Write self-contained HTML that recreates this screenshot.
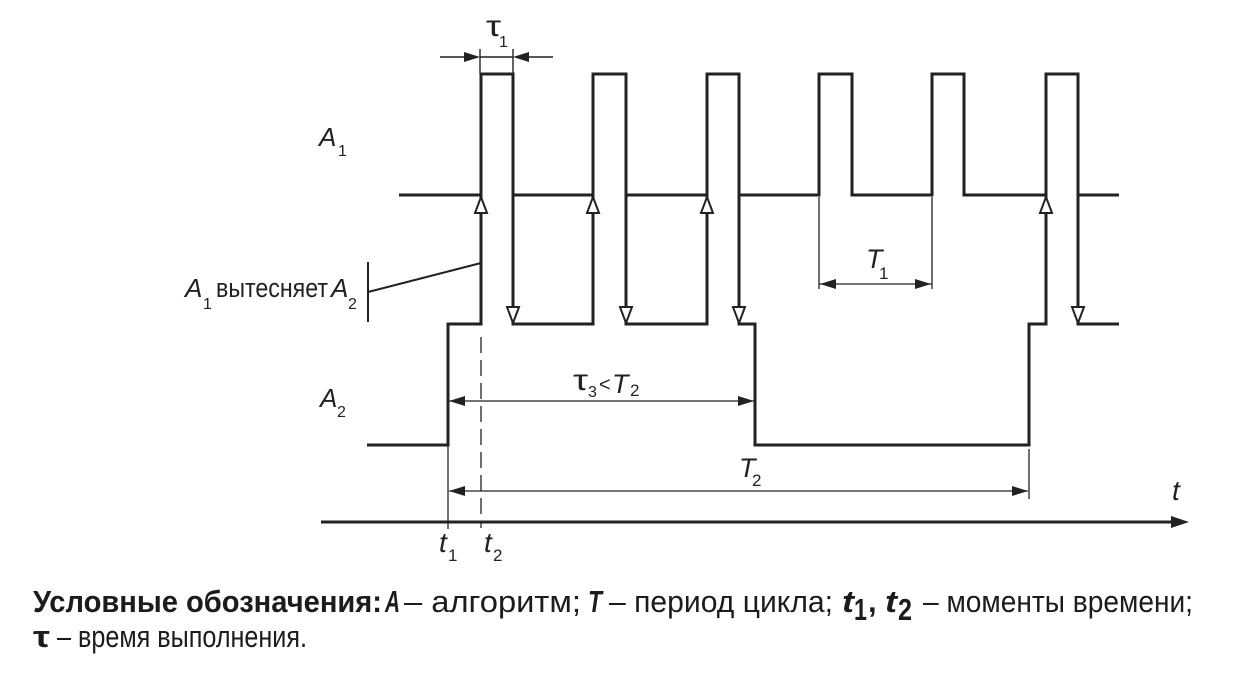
<!DOCTYPE html>
<html>
<head>
<meta charset="utf-8">
<style>
  html,body{margin:0;padding:0;background:#fff;}
  svg{display:block;}
  .lbl{font-family:"Liberation Sans",sans-serif;fill:#222;}
  .cap{font-family:"Liberation Sans",sans-serif;fill:#1c1c1c;font-size:31px;}
</style>
</head>
<body>
<svg width="1238" height="674" viewBox="0 0 1238 674" xmlns="http://www.w3.org/2000/svg">
  <!-- A1 trace -->
  <path d="M399,195 H481 V74 H513 V195 H593 V74 H626 V195 H707 V74 H739 V195 H819 V74 H852 V195 H932 V74 H964 V195 H1046 V74 H1078 V195 H1119"
        fill="none" stroke="#222" stroke-width="3" stroke-linejoin="miter"/>
  <!-- A2 trace -->
  <path d="M367,445 H448 V324 H481 V195 M513,195 V324 H593 V195 M626,195 V324 H707 V195 M739,195 V324 H755 V445 H1029 V324 H1046 V195 M1078,195 V324 H1119"
        fill="none" stroke="#222" stroke-width="3" stroke-linejoin="miter"/>

  <!-- hollow up arrows -->
  <g fill="#fff" stroke="#222" stroke-width="2" stroke-linejoin="miter">
    <polygon points="481,197 475,213 487,213"/>
    <polygon points="593,197 587,213 599,213"/>
    <polygon points="707,197 701,213 713,213"/>
    <polygon points="1046,197 1040,213 1052,213"/>
    <!-- hollow down arrows -->
    <polygon points="513,323 507,307 519,307"/>
    <polygon points="626,323 620,307 632,307"/>
    <polygon points="739,323 733,307 745,307"/>
    <polygon points="1078,323 1072,307 1084,307"/>
  </g>

  <!-- tau1 dimension -->
  <g stroke="#222" stroke-width="1.4" fill="none">
    <line x1="480" y1="49" x2="480" y2="74"/>
    <line x1="513" y1="49" x2="513" y2="74"/>
    <line x1="440" y1="57" x2="470" y2="57"/>
    <line x1="480" y1="57" x2="513" y2="57"/>
    <line x1="523" y1="57" x2="553" y2="57"/>
  </g>
  <polygon points="480,57 464,52 464,62" fill="#222"/>
  <polygon points="513,57 529,52 529,62" fill="#222"/>

  <!-- T1 dimension -->
  <g stroke="#222" stroke-width="1.3" fill="none">
    <line x1="819" y1="197" x2="819" y2="289"/>
    <line x1="932" y1="197" x2="932" y2="289"/>
    <line x1="819" y1="284" x2="932" y2="284"/>
  </g>
  <polygon points="820,284 836,279 836,289" fill="#222"/>
  <polygon points="931,284 915,279 915,289" fill="#222"/>

  <!-- leader for label -->
  <line x1="481" y1="263" x2="368" y2="292" stroke="#222" stroke-width="2"/>
  <line x1="368" y1="262" x2="368" y2="322" stroke="#222" stroke-width="2"/>

  <!-- tau3 dimension -->
  <line x1="449" y1="401" x2="754" y2="401" stroke="#222" stroke-width="1.3"/>
  <polygon points="449,401 465,396 465,406" fill="#222"/>
  <polygon points="754,401 738,396 738,406" fill="#222"/>

  <!-- T2 dimension -->
  <line x1="448" y1="445" x2="448" y2="529" stroke="#222" stroke-width="1.3"/>
  <line x1="1029" y1="449" x2="1029" y2="499" stroke="#222" stroke-width="1.3"/>
  <line x1="449" y1="491" x2="1028" y2="491" stroke="#222" stroke-width="1.3"/>
  <polygon points="449,491 465,486 465,496" fill="#222"/>
  <polygon points="1028,491 1012,486 1012,496" fill="#222"/>

  <!-- t2 dashed -->
  <line x1="481" y1="337" x2="481" y2="528" stroke="#222" stroke-width="1.3" stroke-dasharray="16 7"/>

  <!-- time axis -->
  <line x1="321" y1="522" x2="1174" y2="522" stroke="#222" stroke-width="3"/>
  <polygon points="1171,516 1189,522 1171,528" fill="#222"/>

  <!-- labels -->
  <text class="lbl" x="486" y="36" font-size="30" textLength="15" lengthAdjust="spacingAndGlyphs">τ</text>
  <text class="lbl" x="499" y="47" font-size="16">1</text>

  <text class="lbl" x="319" y="146" font-size="26" font-style="italic">A</text>
  <text class="lbl" x="338" y="156" font-size="16">1</text>

  <text class="lbl" x="320" y="407" font-size="26" font-style="italic">A</text>
  <text class="lbl" x="337" y="417" font-size="16">2</text>

  <text class="lbl" x="185" y="297" font-size="26" font-style="italic">A</text>
  <text class="lbl" x="203" y="309" font-size="16">1</text>
  <text class="lbl" x="216" y="297" font-size="27" textLength="112" lengthAdjust="spacingAndGlyphs">вытесняет</text>
  <text class="lbl" x="331" y="297" font-size="26" font-style="italic">A</text>
  <text class="lbl" x="348" y="309" font-size="16">2</text>

  <text class="lbl" x="573" y="390" font-size="30" textLength="15" lengthAdjust="spacingAndGlyphs">τ</text>
  <text class="lbl" x="588" y="397" font-size="16">3</text>
  <text class="lbl" x="599" y="391" font-size="20">&lt;</text>
  <text class="lbl" x="612" y="393" font-size="27" font-style="italic">T</text>
  <text class="lbl" x="630" y="396" font-size="17">2</text>

  <text class="lbl" x="739" y="477" font-size="27" font-style="italic">T</text>
  <text class="lbl" x="752" y="486" font-size="17">2</text>

  <text class="lbl" x="866" y="268" font-size="27" font-style="italic">T</text>
  <text class="lbl" x="879" y="279" font-size="17">1</text>

  <text class="lbl" x="1172" y="500" font-size="28" font-style="italic">t</text>

  <text class="lbl" x="439" y="552" font-size="28" font-style="italic">t</text>
  <text class="lbl" x="448" y="561" font-size="17">1</text>
  <text class="lbl" x="484" y="552" font-size="28" font-style="italic">t</text>
  <text class="lbl" x="493" y="561" font-size="17">2</text>

  <!-- caption line 1 -->
  <text class="cap" x="33" y="612" font-weight="bold" textLength="349" lengthAdjust="spacingAndGlyphs">Условные обозначения:</text>
  <text class="cap" x="385" y="612" font-weight="bold" font-style="italic" textLength="15" lengthAdjust="spacingAndGlyphs">A</text>
  <text class="cap" x="404" y="612" textLength="177" lengthAdjust="spacingAndGlyphs">– алгоритм;</text>
  <text class="cap" x="588" y="612" font-weight="bold" font-style="italic" textLength="14" lengthAdjust="spacingAndGlyphs">T</text>
  <text class="cap" x="609" y="612" textLength="224" lengthAdjust="spacingAndGlyphs">– период цикла;</text>
  <text class="cap" x="842" y="612" font-weight="bold" font-style="italic" textLength="12" lengthAdjust="spacingAndGlyphs">t</text>
  <text class="cap" x="854" y="620" font-weight="bold" font-size="27" textLength="13" lengthAdjust="spacingAndGlyphs">1</text>
  <text class="cap" x="868" y="612" font-weight="bold">,</text>
  <text class="cap" x="885" y="612" font-weight="bold" font-style="italic" textLength="12" lengthAdjust="spacingAndGlyphs">t</text>
  <text class="cap" x="898" y="620" font-weight="bold" font-size="27" textLength="14" lengthAdjust="spacingAndGlyphs">2</text>
  <text class="cap" x="923" y="612" textLength="270" lengthAdjust="spacingAndGlyphs">– моменты времени;</text>

  <!-- caption line 2 -->
  <text class="cap" x="33" y="647" font-weight="bold" textLength="17" lengthAdjust="spacingAndGlyphs">τ</text>
  <text class="cap" x="57" y="647" textLength="250" lengthAdjust="spacingAndGlyphs">– время выполнения.</text>
</svg>
</body>
</html>
